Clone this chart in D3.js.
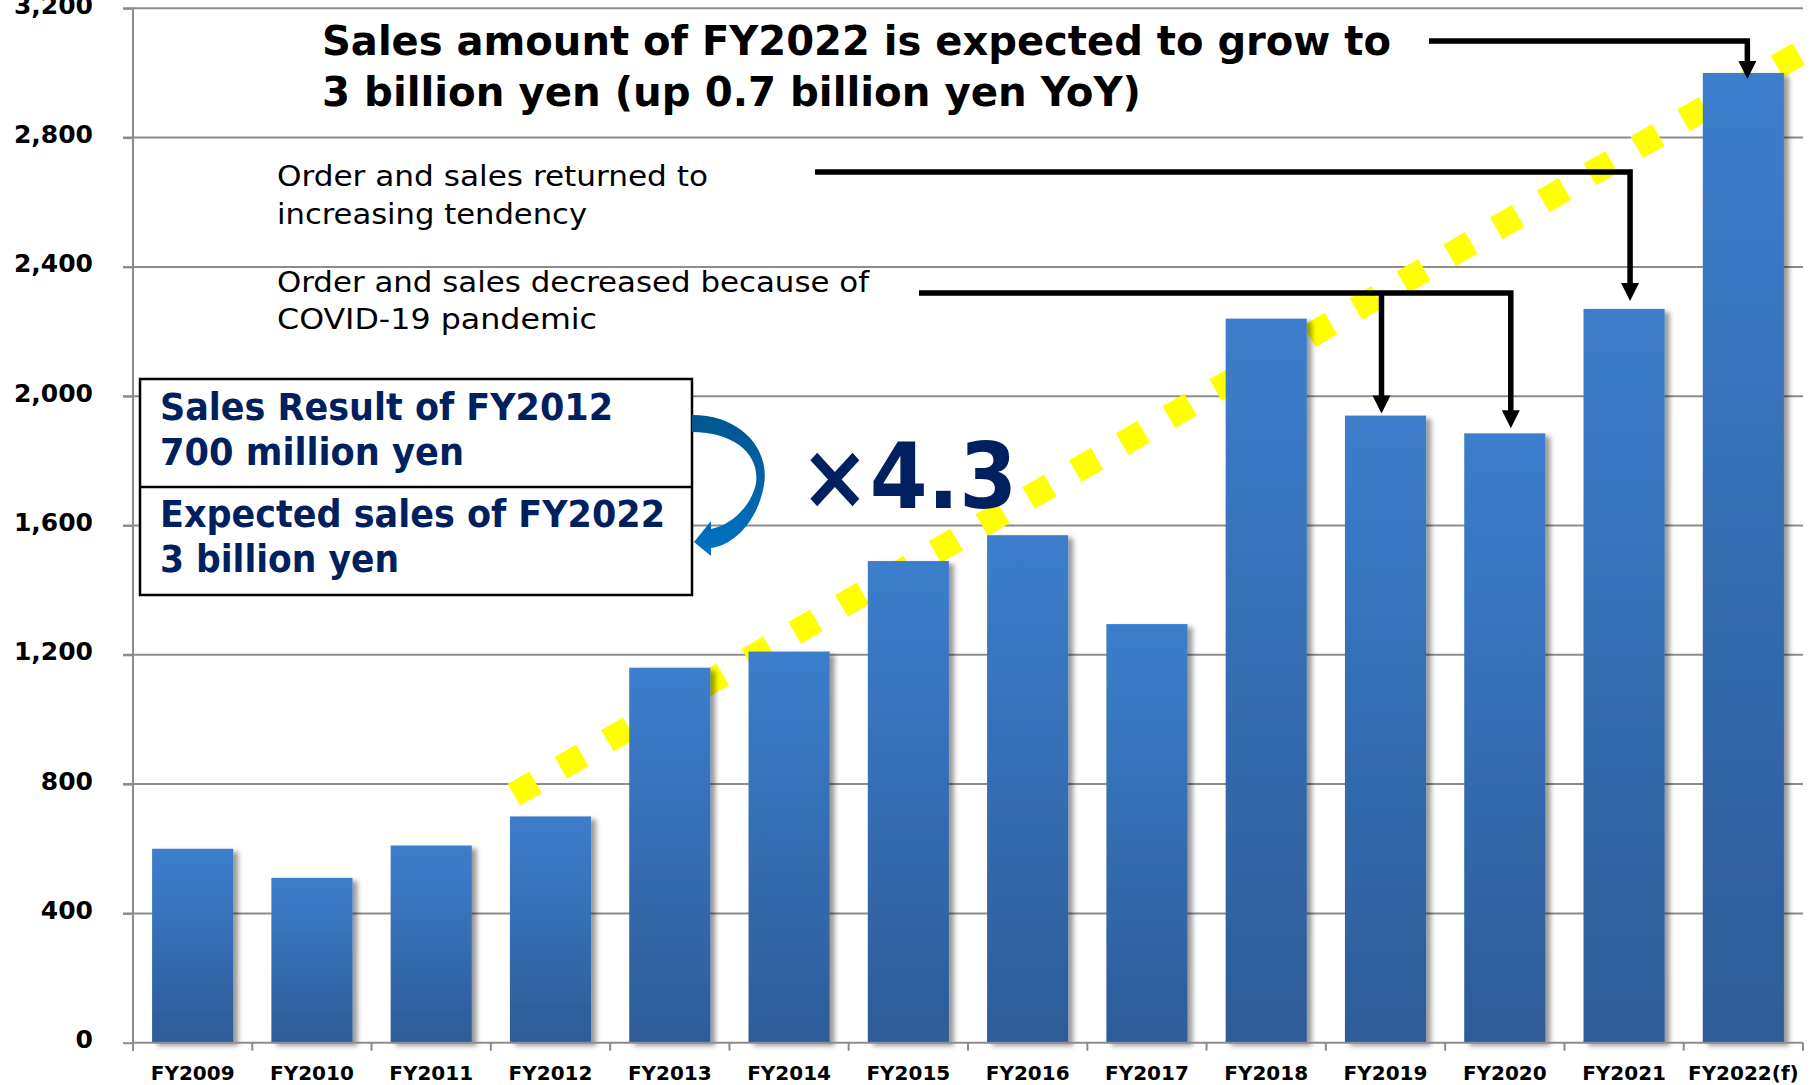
<!DOCTYPE html>
<html lang="en">
  <head>
    <meta charset="utf-8" />
    <title>Sales amount FY2009 - FY2022(f)</title>
    <script src="https://d3js.org/d3.v7.min.js"></script>
    <style>
      body {
        margin: 0;
        background: #fff;
        overflow: hidden;
      }
      .axis text {
        font-family: "DejaVu Sans", Verdana, sans-serif;
        font-weight: bold;
        fill: #000;
      }
      .axis line {
        stroke: #8c8c8c;
        stroke-width: 2px;
      }
      .grid line {
        stroke: #8c8c8c;
        stroke-width: 2px;
      }
      .note {
        font-family: "DejaVu Sans Condensed", "DejaVu Sans", Verdana, sans-serif;
        font-stretch: condensed;
      }
      .arrow {
        fill: none;
        stroke: #000;
        stroke-width: 5.5px;
      }
    </style>
  </head>
  <body>
    <script>
      // data (million yen)
      const years = ["FY2009", "FY2010", "FY2011", "FY2012", "FY2013", "FY2014", "FY2015",
                     "FY2016", "FY2017", "FY2018", "FY2019", "FY2020", "FY2021", "FY2022(f)"];
      const sales = [600, 510, 610, 700, 1160, 1210, 1490, 1570, 1295, 2240, 1940, 1885, 2270, 3000];
      const yTicks = [0, 400, 800, 1200, 1600, 2000, 2400, 2800, 3200];

      const titleLines = ["Sales amount of FY2022 is expected to grow to",
                          "3 billion yen (up 0.7 billion yen YoY)"];
      const noteUpLines = ["Order and sales returned to", "increasing tendency"];
      const noteDownLines = ["Order and sales decreased because of", "COVID-19 pandemic"];
      const boxTopLines = ["Sales Result of FY2012", "700 million yen"];
      const boxBottomLines = ["Expected sales of FY2022", "3 billion yen"];
      const multipleText = "×4.3";

      let w = 1812;
      let h = 1085;
      let plotLeft = 133, plotRight = 1803, plotTop = 8.3, plotBottom = 1042.7;

      let svg = d3.select("body").append("svg").attr("width", w).attr("height", h);

      let defs = svg.append("defs");
      let barGrad = defs.append("linearGradient").attr("id", "barGrad")
        .attr("x1", 0).attr("y1", 0).attr("x2", 0).attr("y2", 1);
      barGrad.append("stop").attr("offset", "0%").attr("stop-color", "#3c7ecc");
      barGrad.append("stop").attr("offset", "100%").attr("stop-color", "#2d5c98");

      let arcGrad = defs.append("linearGradient").attr("id", "arcGrad")
        .attr("x1", 0).attr("y1", 0).attr("x2", 0).attr("y2", 1);
      arcGrad.append("stop").attr("offset", "0%").attr("stop-color", "#00568f");
      arcGrad.append("stop").attr("offset", "100%").attr("stop-color", "#0072c4");

      let shadow = defs.append("filter").attr("id", "shadow")
        .attr("x", "-20%").attr("y", "-10%").attr("width", "150%").attr("height", "130%");
      shadow.append("feDropShadow").attr("dx", 5).attr("dy", 3)
        .attr("stdDeviation", 2.5).attr("flood-color", "#000").attr("flood-opacity", 0.4);

      let x = d3.scaleBand().domain(years).range([plotLeft, plotRight]).paddingInner(0.32).paddingOuter(0.16);
      let y = d3.scaleLinear().domain([0, 3200]).range([plotBottom, plotTop]);

      // gridlines
      svg.append("g").attr("class", "grid")
        .selectAll("line")
        .data(yTicks.filter((d) => d > 0))
        .join("line")
        .attr("x1", plotLeft - 10)
        .attr("x2", plotRight)
        .attr("y1", (d) => y(d))
        .attr("y2", (d) => y(d));

      // yellow dotted trend line (behind the bars)
      let t0 = [x("FY2012"), y(760)];
      let t1 = [x("FY2022(f)") + x.bandwidth() / 2, y(2960)];
      let slope = (t1[1] - t0[1]) / (t1[0] - t0[0]);
      svg.append("line")
        .attr("x1", t0[0] + 4)
        .attr("y1", t0[1] + 4 * slope)
        .attr("x2", 1900)
        .attr("y2", t0[1] + (1900 - t0[0]) * slope)
        .attr("stroke", "#ffff00")
        .attr("stroke-width", 25)
        .attr("stroke-dasharray", "25 29");

      // bars
      svg.append("g")
        .selectAll("rect")
        .data(years)
        .join("rect")
        .attr("x", (d) => x(d))
        .attr("y", (d, i) => y(sales[i]))
        .attr("width", x.bandwidth())
        .attr("height", (d, i) => y(0) - y(sales[i]))
        .attr("fill", "url(#barGrad)")
        .attr("filter", "url(#shadow)");

      // y axis
      let yAxis = d3.axisLeft(y).tickValues(yTicks).tickFormat(d3.format(",")).tickSize(10).tickPadding(30);
      let gy = svg.append("g").attr("class", "axis").attr("transform", `translate(${plotLeft},0)`).call(yAxis);
      gy.select(".domain").remove();
      gy.selectAll("text").style("font-size", "25px").attr("dy", "0.2em");
      svg.append("line")
        .attr("x1", plotLeft).attr("x2", plotLeft)
        .attr("y1", plotTop).attr("y2", plotBottom + 8)
        .attr("stroke", "#8c8c8c").attr("stroke-width", 2);

      // x axis
      let xAxis = d3.axisBottom(x).tickSize(0).tickPadding(23);
      let gx = svg.append("g").attr("class", "axis").attr("transform", `translate(0,${plotBottom})`).call(xAxis);
      gx.select(".domain").remove();
      gx.selectAll("text").style("font-size", "20px");
      svg.append("line")
        .attr("x1", plotLeft).attr("x2", plotRight)
        .attr("y1", plotBottom).attr("y2", plotBottom)
        .attr("stroke", "#8c8c8c").attr("stroke-width", 2);
      svg.append("g")
        .selectAll("line")
        .data(d3.range(years.length + 1))
        .join("line")
        .attr("x1", (i) => plotLeft + i * x.step())
        .attr("x2", (i) => plotLeft + i * x.step())
        .attr("y1", plotBottom)
        .attr("y2", plotBottom + 8)
        .attr("stroke", "#8c8c8c")
        .attr("stroke-width", 2);

      // text helper
      function textBlock(lines, tx, baselines, size, weight, color, widths) {
        let g = svg.append("g").attr("class", "note");
        lines.forEach((line, i) => {
          g.append("text")
            .attr("x", tx)
            .attr("y", baselines[i])
            .attr("textLength", widths[i])
            .attr("lengthAdjust", "spacingAndGlyphs")
            .style("font-size", size + "px")
            .style("font-weight", weight)
            .style("fill", color)
            .text(line);
        });
      }

      // comparison box
      svg.append("rect")
        .attr("x", 140).attr("y", 379)
        .attr("width", 552).attr("height", 216)
        .attr("fill", "#fff").attr("stroke", "#000").attr("stroke-width", 2.5);
      svg.append("line")
        .attr("x1", 140).attr("x2", 692)
        .attr("y1", 487).attr("y2", 487)
        .attr("stroke", "#000").attr("stroke-width", 2.5);

      textBlock(boxTopLines, 160, [420, 465], 37, "bold", "#002060", [453, 304]);
      textBlock(boxBottomLines, 160, [527, 572], 37, "bold", "#002060", [505, 239]);

      // curved arrow
      svg.append("path")
        .attr("d", "M692,415 C742,415 770,450 764,485 C758,520 735,545 711,548 " +
                   "L711,556 L694,542 L711,521 L711,529 C732,525 752,505 756,483 " +
                   "C760,455 735,432 692,432 Z")
        .attr("fill", "url(#arcGrad)");

      textBlock([multipleText], 800, [508], 90, "bold", "#002060", [217]);

      textBlock(titleLines, 322, [55, 106], 40, "bold", "#000", [1069, 819]);
      textBlock(noteUpLines, 277, [186, 224], 28, "normal", "#000", [431, 310]);
      textBlock(noteDownLines, 277, [292, 329], 28, "normal", "#000", [592, 320]);

      // elbow arrows from the notes to the bars
      let arrows = [
        { x0: 1429, y0: 41, to: [{ yr: "FY2022(f)", dx: 4, gap: -6 }] },
        { x0: 815, y0: 172, to: [{ yr: "FY2021", dx: 6, gap: 8 }] },
        { x0: 919, y0: 293, to: [{ yr: "FY2019", dx: -4, gap: 2 }, { yr: "FY2020", dx: 6, gap: 5 }] },
      ];
      let head = 18;
      arrows.forEach((a) => {
        let pts = a.to.map((t) => ({
          x: x(t.yr) + x.bandwidth() / 2 + t.dx,
          tip: y(sales[years.indexOf(t.yr)]) - t.gap,
        }));
        let last = pts[pts.length - 1];
        svg.append("path")
          .attr("class", "arrow")
          .attr("d", `M${a.x0},${a.y0} H${last.x} V${last.tip - head + 2}`);
        pts.slice(0, -1).forEach((p) => {
          svg.append("path").attr("class", "arrow").attr("d", `M${p.x},${a.y0} V${p.tip - head + 2}`);
        });
        pts.forEach((p) => {
          svg.append("path")
            .attr("d", `M${p.x - 9},${p.tip - head} L${p.x + 9},${p.tip - head} L${p.x},${p.tip} Z`)
            .attr("fill", "#000");
        });
      });
    </script>
  </body>
</html>
